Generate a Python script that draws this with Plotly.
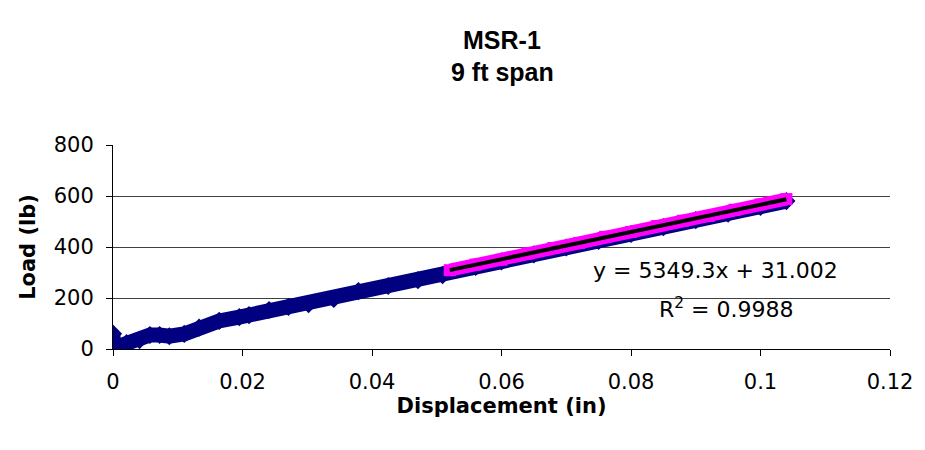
import plotly.graph_objects as go

# Full data series (navy)
disp_all = [0.0, 0.0, 0.001, 0.0021, 0.0041, 0.0057, 0.0072, 0.0087, 0.011, 0.0133,
            0.0164, 0.0195, 0.0210, 0.0241, 0.0271, 0.0302, 0.0341, 0.0379, 0.0425,
            0.0471, 0.0509, 0.056, 0.060, 0.065, 0.070, 0.075, 0.080, 0.085, 0.090,
            0.095, 0.100, 0.104]
load_all = [60, 5, 12, 23, 35, 55, 55, 50, 59, 84,
            110, 125, 133, 153, 165, 176, 196, 227, 247,
            270, 290, 322, 344, 371, 398, 424, 451, 478, 505,
            531, 557, 580]

# Fitted portion (magenta)
disp_fit = [0.052, 0.056, 0.060, 0.064, 0.068, 0.072, 0.076, 0.080, 0.084,
            0.088, 0.092, 0.096, 0.100, 0.104]
load_fit = [309, 331, 350, 375, 396, 416, 440, 459, 482, 503, 522, 546, 567, 588]

# Linear trendline parameters
slope = 5349.3
intercept = 31.002
r_squared = 0.9988

x_ticks = [0, 0.02, 0.04, 0.06, 0.08, 0.1, 0.12]
x_tick_text = ["0", "0.02", "0.04", "0.06", "0.08", "0.1", "0.12"]
y_ticks = [0, 200, 400, 600, 800]

FONT = "DejaVu Sans"
TFONT = "Liberation Sans, Arial, sans-serif"

trend_x = [min(disp_fit), max(disp_fit)]
trend_y = [slope * v + intercept for v in trend_x]

fig = go.Figure()
fig.add_trace(go.Scatter(
    x=disp_all, y=load_all, mode="lines+markers",
    line=dict(color="#000080", width=15),
    marker=dict(symbol="diamond", size=14, color="#000080"),
    showlegend=False, hoverinfo="skip"))
fig.add_trace(go.Scatter(
    x=disp_fit, y=load_fit, mode="lines+markers",
    line=dict(color="#FF00FF", width=13),
    marker=dict(symbol="square", size=12, color="#FF00FF"),
    showlegend=False, hoverinfo="skip"))
fig.add_trace(go.Scatter(
    x=trend_x, y=trend_y, mode="lines",
    line=dict(color="#000000", width=4),
    showlegend=False, hoverinfo="skip"))

# white label box behind the trendline equation (above gridlines, below data)
fig.add_shape(type="rect", xref="paper", yref="paper",
              x0=0.6125, x1=0.94, y0=0.118, y1=0.52,
              fillcolor="white", line=dict(width=0), layer="between")

fig.add_annotation(
    x=0.776, y=0.387, xref="paper", yref="paper",
    text=f"y = {slope}x + {intercept}",
    showarrow=False, xanchor="center", yanchor="middle",
    font=dict(family=FONT, size=22, color="black"))
fig.add_annotation(
    x=0.79, y=0.20, xref="paper", yref="paper",
    text=f"R<sup>2</sup> = {r_squared}",
    showarrow=False, xanchor="center", yanchor="middle",
    font=dict(family=FONT, size=22, color="black"))

# two-line bold title
fig.add_annotation(
    x=0.501, y=1.515, xref="paper", yref="paper",
    text="<b>MSR-1</b>", showarrow=False, xanchor="center", yanchor="middle",
    font=dict(family=TFONT, size=25, color="black"))
fig.add_annotation(
    x=0.501, y=1.358, xref="paper", yref="paper",
    text="<b>9 ft span</b>", showarrow=False, xanchor="center", yanchor="middle",
    font=dict(family=TFONT, size=25, color="black"))

fig.update_layout(
    width=925, height=450,
    margin=dict(l=113, r=30, t=145, b=101),
    paper_bgcolor="white", plot_bgcolor="white",
    font=dict(family=FONT, size=21, color="black"),
    xaxis=dict(range=[0, 0.12], tickvals=x_ticks, ticktext=x_tick_text,
               showgrid=False, zeroline=False, showline=True, linecolor="black",
               linewidth=1, ticks="outside", ticklen=6, tickcolor="black",
               ticklabelstandoff=8,
               tickfont=dict(family=FONT, size=21),
               title=dict(text="<b>Displacement (in)</b>", standoff=5,
                          font=dict(family=FONT, size=21))),
    yaxis=dict(range=[0, 800], tickvals=y_ticks,
               showgrid=True, gridcolor="#404040", gridwidth=1,
               zeroline=False, showline=True, linecolor="black",
               linewidth=1, ticks="outside", ticklen=6, tickcolor="black",
               ticklabelstandoff=8,
               tickfont=dict(family=FONT, size=21),
               title=dict(text="<b>Load (lb)</b>", standoff=12,
                          font=dict(family=FONT, size=21))),
)

fig.write_html("out.html")
